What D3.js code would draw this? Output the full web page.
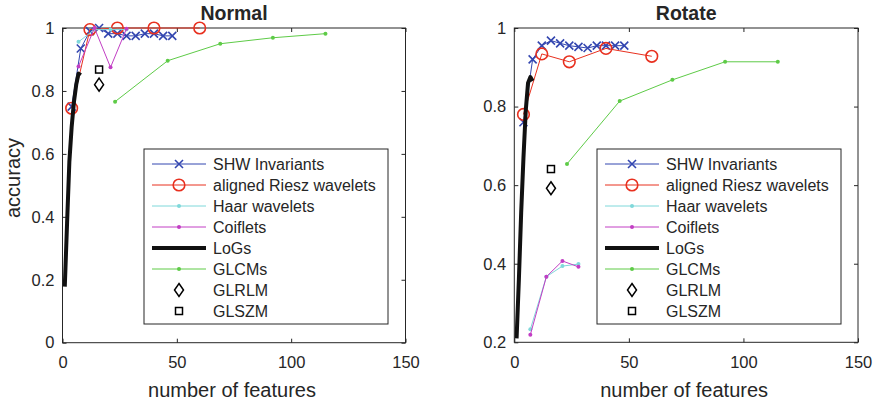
<!DOCTYPE html>
<html><head><meta charset="utf-8">
<script src="https://cdn.jsdelivr.net/npm/d3@7"></script>
<style>
body{margin:0;background:#fff;}
text{font-family:"Liberation Sans",Arial,Helvetica,sans-serif;fill:#262626;}
</style></head>
<body><svg id="c" width="877" height="402"></svg>
<script>
// ---------- data ----------
const seriesNames = ["SHW Invariants","aligned Riesz wavelets","Haar wavelets","Coiflets","LoGs","GLCMs","GLRLM","GLSZM"];
const xTicks = [0,50,100,150];
const yTicksNormal = [0,0.2,0.4,0.6,0.8,1];
const yTicksRotate = [0.2,0.4,0.6,0.8,1];

const shwX = [4,8,12,16,20,24,28,32,36,40,44,48];
const shwNormal = [0.75,0.935,0.99,1.0,0.982,0.982,0.975,0.975,0.982,0.982,0.975,0.975];
const shwRotate = [0.76,0.92,0.955,0.968,0.961,0.955,0.952,0.949,0.955,0.955,0.955,0.955];

const rieszX = [4,12,24,40,60];
const rieszNormal = [0.745,0.995,1.0,1.0,1.0];
const rieszRotate = [0.78,0.934,0.914,0.948,0.928];

const waveX = [7,14,21,28];
const haarNormal = [0.956,0.995,0.995,0.995];
const haarRotate = [0.233,0.367,0.394,0.399];
const coifNormal = [0.878,1.0,0.875,0.998];
const coifRotate = [0.219,0.367,0.407,0.392];

const logX = [1,2,3,4,5,6,7,8];
const logNormal = [0.178,0.38,0.575,0.685,0.765,0.82,0.855,0.85];
const logRotate = [0.21,0.36,0.53,0.67,0.79,0.86,0.875,0.865];

const glcmX = [23,46,69,92,115];
const glcmNormal = [0.766,0.896,0.95,0.969,0.982];
const glcmRotate = [0.654,0.814,0.868,0.914,0.914];

const glrlmX = [16];
const glrlmNormal = [0.82];
const glrlmRotate = [0.592];
const glszmX = [16];
const glszmNormal = [0.868];
const glszmRotate = [0.641];

// ---------- styles ----------
const colors = {shw:"#3346b0", riesz:"#e8301f", haar:"#7fd8da", coif:"#c23ec4", log:"#111111", glcm:"#5ecb47", glrlm:"#000", glszm:"#000"};

const svg = d3.select("#c");

function panel(opt){
  const x = d3.scaleLinear().domain([0,150]).range(opt.xr);
  const y = d3.scaleLinear().domain(opt.yd).range(opt.yr);
  const g = svg.append("g");
  const axc = "#262626";
  // frame
  g.append("rect").attr("x",opt.xr[0]).attr("y",opt.yr[1])
    .attr("width",opt.xr[1]-opt.xr[0]).attr("height",opt.yr[0]-opt.yr[1])
    .attr("fill","#fff").attr("stroke",axc).attr("stroke-width",1);
  const styleAxis = sel => { sel.select(".domain").remove(); sel.selectAll("line").attr("stroke",axc);
    sel.selectAll("text").style("font-size","16.5px").attr("fill",axc).style("font-family",'"Liberation Sans",Arial,sans-serif'); };
  g.append("g").attr("transform",`translate(0,${opt.yr[0]})`)
    .call(d3.axisBottom(x).tickValues(xTicks).tickSizeInner(-4).tickSizeOuter(0).tickPadding(14).tickFormat(d3.format("d")))
    .call(styleAxis);
  g.append("g").attr("transform",`translate(0,${opt.yr[1]})`)
    .call(d3.axisTop(x).tickValues(xTicks).tickSizeInner(-4).tickSizeOuter(0).tickFormat(""))
    .call(styleAxis);
  g.append("g").attr("transform",`translate(${opt.xr[0]},0)`)
    .call(d3.axisLeft(y).tickValues(opt.yt).tickSizeInner(-4).tickSizeOuter(0).tickPadding(8).tickFormat(d=>d3.format("")(+d.toFixed(1))))
    .call(styleAxis);
  g.append("g").attr("transform",`translate(${opt.xr[1]},0)`)
    .call(d3.axisRight(y).tickValues(opt.yt).tickSizeInner(-4).tickSizeOuter(0).tickFormat(""))
    .call(styleAxis);

  // title
  g.append("text").attr("x",(opt.xr[0]+opt.xr[1])/2).attr("y",19.5).attr("text-anchor","middle")
    .style("font-size","19.5px").style("font-weight","bold").attr("fill","#000").text(opt.title);
  g.append("text").attr("x",(opt.xr[0]+opt.xr[1])/2-2).attr("y",396.5).attr("text-anchor","middle")
    .style("font-size","20px").text("number of features");
  if(opt.ylabel){
    g.append("text").attr("transform","translate(19.5,178) rotate(-90)").attr("text-anchor","middle")
      .style("font-size","20px").text(opt.ylabel);
  }

  const line = d3.line().x(d=>x(d[0])).y(d=>y(d[1]));
  const zip = (xs,ys)=>xs.map((v,i)=>[v,ys[i]]);
  const data = opt.data;

  function drawMarker(sel,type,col){
    if(type==="x"){
      sel.append("path").attr("d","M-4,-4L4,4M-4,4L4,-4").attr("stroke",col).attr("stroke-width",1.6).attr("fill","none");
    } else if(type==="o"){
      sel.append("circle").attr("r",5.8).attr("fill","none").attr("stroke",col).attr("stroke-width",1.6);
    } else if(type==="dot"){
      sel.append("circle").attr("r",2).attr("fill",col);
    } else if(type==="d"){
      sel.append("path").attr("d","M0,-6.5L4.5,0L0,6.5L-4.5,0Z").attr("fill","none").attr("stroke",col).attr("stroke-width",1.5);
    } else if(type==="s"){
      sel.append("rect").attr("x",-3.5).attr("y",-3.5).attr("width",7).attr("height",7).attr("fill","none").attr("stroke",col).attr("stroke-width",1.5);
    }
  }
  function series(xs,ys,col,lw,marker){
    const pts = zip(xs,ys);
    if(lw>0) g.append("path").datum(pts).attr("d",line).attr("fill","none").attr("stroke",col).attr("stroke-width",lw).attr("stroke-linejoin","round");
    if(marker) pts.forEach(p=>{ const m=g.append("g").attr("transform",`translate(${x(p[0])},${y(p[1])})`); drawMarker(m,marker,col); });
  }
  series(shwX,data.shw,colors.shw,1,"x");
  series(rieszX,data.riesz,colors.riesz,1,"o");
  series(waveX,data.haar,colors.haar,1,"dot");
  series(waveX,data.coif,colors.coif,1,"dot");
  series(logX,data.log,colors.log,4,null);
  series(glcmX,data.glcm,colors.glcm,1,"dot");
  series(glrlmX,data.glrlm,colors.glrlm,0,"d");
  series(glszmX,data.glszm,colors.glszm,0,"s");

  // legend
  const lx = opt.legX, ly = 149, lw = 244, lh = 175;
  const lg = g.append("g");
  lg.append("rect").attr("x",lx).attr("y",ly).attr("width",lw).attr("height",lh).attr("fill","#fff").attr("stroke",axc).attr("stroke-width",1);
  const specs = [
    {c:colors.shw,lw:1,m:"x"},{c:colors.riesz,lw:1,m:"o"},{c:colors.haar,lw:1,m:"dot"},{c:colors.coif,lw:1,m:"dot"},
    {c:colors.log,lw:4,m:null},{c:colors.glcm,lw:1,m:"dot"},{c:colors.glrlm,lw:0,m:"d"},{c:colors.glszm,lw:0,m:"s"}];
  seriesNames.forEach((n,i)=>{
    const yy = ly + 15 + i*21;
    const s = specs[i];
    if(s.lw>0) lg.append("line").attr("x1",lx+8).attr("x2",lx+62).attr("y1",yy).attr("y2",yy).attr("stroke",s.c).attr("stroke-width",s.lw);
    if(s.m){ const m = lg.append("g").attr("transform",`translate(${lx+35},${yy})`); drawMarker(m,s.m,s.c); }
    lg.append("text").attr("x",lx+69).attr("y",yy+5.5).style("font-size","16px").attr("fill","#262626").text(n);
  });
}

panel({title:"Normal", ylabel:"accuracy", xr:[62.5,405.5], yr:[342.7,28], yd:[0,1], yt:yTicksNormal, legX:144,
  data:{shw:shwNormal,riesz:rieszNormal,haar:haarNormal,coif:coifNormal,log:logNormal,glcm:glcmNormal,glrlm:glrlmNormal,glszm:glszmNormal}});
panel({title:"Rotate", ylabel:null, xr:[514.3,858], yr:[342.3,28], yd:[0.2,1], yt:yTicksRotate, legX:597,
  data:{shw:shwRotate,riesz:rieszRotate,haar:haarRotate,coif:coifRotate,log:logRotate,glcm:glcmRotate,glrlm:glrlmRotate,glszm:glszmRotate}});
</script></body></html>
